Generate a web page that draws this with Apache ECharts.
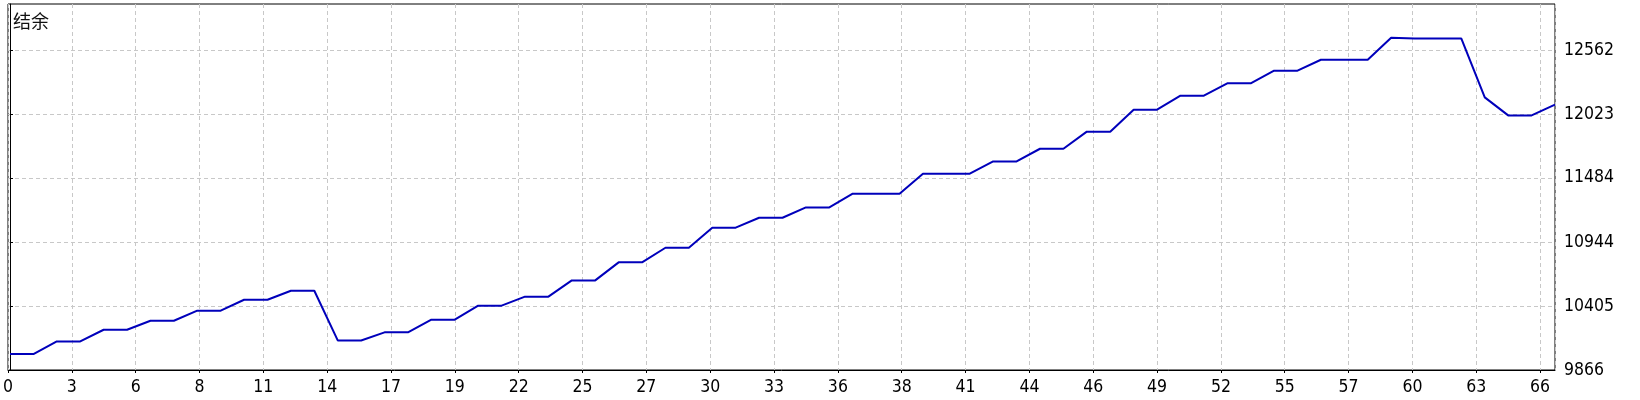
<!DOCTYPE html>
<html>
<head>
<meta charset="utf-8">
<script src="https://cdn.jsdelivr.net/npm/echarts@6/dist/echarts.min.js"></script>
<style>
html,body{margin:0;padding:0;background:#fff;}
#chart{width:1640px;height:400px;}
</style>
</head>
<body>
<div id="chart"></div>
<script>
// Trade number (x) and balance (y)
const balance = [
  10000, 10000, 10107, 10107, 10205, 10205, 10281, 10281, 10366, 10366,
  10458, 10458, 10534, 10534, 10115, 10115, 10183, 10183, 10290, 10290,
  10408, 10408, 10484, 10484, 10621, 10621, 10773, 10773, 10896, 10896,
  11065, 11065, 11149, 11149, 11236, 11236, 11351, 11351, 11351, 11520,
  11520, 11520, 11623, 11623, 11730, 11730, 11874, 11874, 12059, 12059,
  12177, 12177, 12281, 12281, 12388, 12388, 12480, 12480, 12480, 12666,
  12658, 12658, 12658, 12163, 12011, 12011, 12101
];
const xTickLabels = [0, 3, 6, 8, 11, 14, 17, 19, 22, 25, 27, 30, 33, 36, 38, 41, 44, 46, 49, 52, 55, 57, 60, 63, 66];
const yTickLabels = [9866, 10405, 10944, 11484, 12023, 12562];
const titleText = '结余';

const X_MIN = -0.085, X_MAX = 66, X_STEP = 2.727;
const Y_MIN = 9866, Y_STEP = 539.2, Y_MAX = 12949.5;

const seriesData = balance.map((v, i) => [i, v]);
const FONT = "'DejaVu Sans Condensed', 'Liberation Sans', sans-serif";

const chart = echarts.init(document.getElementById('chart'), null, {renderer: 'canvas'});
chart.setOption({
  animation: false,
  backgroundColor: '#fff',
  title: {
    text: titleText, left: 13, top: 12, padding: 0,
    textStyle: {fontSize: 18, fontWeight: 'normal', color: '#111', fontFamily: "'Noto Sans CJK SC', sans-serif"}
  },
  grid: {left: 4, top: 4, right: 85, bottom: 30, show: true, borderColor: '#000', borderWidth: 1, backgroundColor: '#fff'},
  xAxis: {
    type: 'value', min: X_MIN, max: X_MAX, interval: X_STEP,
    axisLine: {show: true, lineStyle: {color: '#000', width: 1}},
    axisTick: {show: true, inside: false, length: 3, lineStyle: {color: '#000'}},
    axisLabel: {
      color: '#000', fontSize: 17.5, fontFamily: FONT, margin: 8, showMaxLabel: false, showMinLabel: true,
      formatter: function (v) {
        const k = Math.round((v - X_MIN) / X_STEP);
        return xTickLabels[k] !== undefined ? String(xTickLabels[k]) : '';
      }
    },
    splitLine: {show: true, lineStyle: {color: '#c8c8c8', type: [4, 3], width: 1}}
  },
  yAxis: {
    type: 'value', position: 'right', min: Y_MIN, max: Y_MAX, interval: Y_STEP,
    axisLine: {show: true, lineStyle: {color: '#000', width: 1}},
    axisTick: {show: true, length: 3, lineStyle: {color: '#000'}, customValues: yTickLabels},
    axisLabel: {
      color: '#000', fontSize: 17.5, fontFamily: FONT, margin: 9, padding: [4, 0, 0, 0],
      customValues: yTickLabels,
      formatter: function (v) { return String(Math.round(v)); }
    },
    splitLine: {show: true, lineStyle: {color: '#c8c8c8', type: [4, 3], width: 1}}
  },
  series: [{
    type: 'line', data: seriesData, showSymbol: false, symbol: 'none',
    lineStyle: {color: '#0000bb', width: 2}, clip: true
  }]
});
</script>
</body>
</html>
